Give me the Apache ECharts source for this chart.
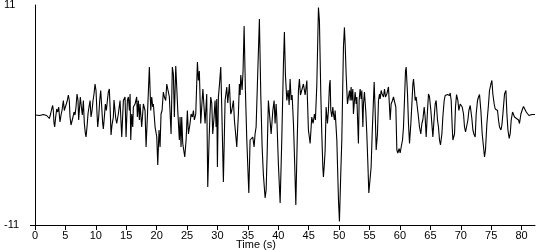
<!DOCTYPE html>
<html>
<head>
<meta charset="utf-8">
<script src="https://cdn.jsdelivr.net/npm/echarts@6/dist/echarts.min.js"></script>
<style>
html,body{margin:0;padding:0;background:#fff;}
#chart{width:550px;height:250px;}
</style>
</head>
<body>
<div id="chart"></div>
<script>
var times = [0,0.8,1.37,1.92,2.19,2.36,2.58,2.75,2.91,3.01,3.13,3.24,3.4,3.57,3.73,3.9,4.0,4.11,4.28,4.44,4.66,4.82,4.98,5.15,5.31,5.48,5.64,5.76,5.92,6.09,6.25,6.41,6.58,6.74,6.91,7.07,7.18,7.29,7.45,7.62,7.78,7.95,8.11,8.28,8.39,8.55,8.72,8.88,9.05,9.21,9.38,9.54,9.7,9.87,10.03,10.2,10.31,10.47,10.64,10.8,10.97,11.13,11.24,11.4,11.57,11.73,11.9,12.06,12.22,12.39,12.5,12.66,12.88,12.99,13.27,13.43,13.7,13.98,14.26,14.53,14.8,14.97,15.19,15.35,15.52,15.63,15.74,15.9,16.07,16.17,16.45,16.72,16.83,16.99,17.16,17.27,17.54,17.82,18.09,18.26,18.48,18.8,19.03,19.19,19.36,19.46,19.74,20.02,20.18,20.39,20.56,20.72,20.89,21.1,21.27,21.49,21.66,21.92,22.09,22.37,22.58,22.75,22.91,23.14,23.3,23.47,23.73,23.85,24.01,24.12,24.29,24.62,24.84,25.05,25.22,25.49,25.66,25.87,26.04,26.2,26.43,26.7,26.86,27.02,27.25,27.41,27.6,27.96,28.23,28.4,28.62,28.75,28.89,29.06,29.22,29.44,29.6,29.77,29.88,29.99,30.15,30.32,30.54,30.7,30.97,31.25,31.52,31.69,31.96,32.18,32.35,32.62,32.78,33.0,33.17,33.44,33.6,33.72,33.83,34.05,34.21,34.38,34.59,34.82,35.15,35.36,35.63,35.8,36.02,36.18,36.35,36.56,36.89,37.12,37.34,37.55,37.83,38.0,38.16,38.37,38.82,39.1,39.31,39.47,39.64,39.75,40.02,40.3,40.57,40.84,41.0,41.17,41.4,41.61,41.78,41.94,42.11,42.27,42.49,42.65,42.88,43.09,43.31,43.47,43.64,43.86,44.13,44.41,44.69,44.95,45.23,45.5,45.72,45.94,46.1,46.33,46.6,46.76,46.99,47.15,47.32,47.42,47.58,47.7,47.86,47.97,48.08,48.24,48.41,48.52,48.63,48.8,48.96,49.07,49.23,49.34,49.62,49.89,50.05,50.27,50.44,50.6,50.71,50.87,50.99,51.15,51.37,51.53,51.7,51.81,51.97,52.08,52.25,52.35,52.63,52.8,52.91,53.17,53.29,53.45,53.62,53.73,53.9,54.0,54.16,54.39,54.55,54.72,54.88,55.1,55.26,55.43,55.64,55.76,55.92,56.09,56.3,56.47,56.63,56.74,56.91,57.07,57.29,57.46,57.62,57.84,58.11,58.22,58.39,58.55,58.77,58.93,59.1,59.32,59.49,59.65,59.87,60.03,60.2,60.42,60.58,60.74,60.91,61.02,61.24,61.4,61.57,61.79,61.96,62.12,62.23,62.39,62.5,62.66,62.88,63.04,63.21,63.43,63.6,63.76,63.98,64.14,64.31,64.53,64.69,64.86,65.08,65.24,65.41,65.63,65.79,65.95,66.17,66.33,66.5,66.66,66.89,67.05,67.27,67.43,67.6,67.81,67.98,68.14,68.26,68.42,68.59,68.7,68.8,68.97,69.13,69.3,69.52,69.68,69.9,70.07,70.23,70.45,70.61,70.78,71.0,71.17,71.33,71.55,71.66,71.82,71.99,72.15,72.37,72.53,72.75,72.91,73.08,73.3,73.52,73.74,73.9,74.06,74.29,74.56,74.72,74.95,75.11,75.27,75.49,75.66,75.82,76.04,76.2,76.37,76.6,76.76,76.92,77.19,77.42,77.58,77.75,77.96,78.13,78.29,78.51,78.67,78.83,79.0,79.16,79.33,79.49,79.65,79.88,80.15,80.31,80.54,80.76,80.97,81.2,81.41,81.69,81.96,82.2];
var accel = [0,-0.05,0.05,-0.05,-0.2,-0.35,0.15,0.6,0.95,0.45,-0.85,-1.2,-0.2,0.6,0.3,0.8,0,-0.7,0,0.45,1.45,0.45,0.8,1.1,1.45,2.0,1.45,-0.2,-1.0,-0.85,-0.2,0.3,0,0.8,2.1,1.45,-0.5,0.45,1.8,0.8,0,1.45,-0.85,-1.85,-2.2,-1.2,0.15,0.8,1.45,-0.2,0.45,1.45,2.1,3.1,2.45,0.1,-1.2,-0.2,1.45,2.45,0.8,-0.85,-1.4,-0.2,1.1,0.45,1.45,2.3,2.6,0.1,-2.0,-1.0,-0.2,1.5,-0.3,-0.85,0.1,1.45,-2.2,1.45,1.8,-2.2,1.45,1.8,0.45,2.1,-2.5,0.1,-1.2,0.8,1.1,1.8,-0.2,1.45,-0.5,1.1,-1.2,1.1,0.45,-3.2,-0.1,4.8,0.45,1.8,0.8,1.1,-1.2,-2.2,-5.0,-1.5,-3.2,0.1,0.45,2.3,1.8,1.45,3.1,3.0,1.8,-1.9,4.8,4.1,-0.2,4.9,2.8,0.45,-2.5,-0.2,-3.2,-0.2,-2.85,-4.2,-2.5,0.45,-1.9,-0.85,0.1,-0.2,0.45,-0.5,0.1,5.3,3.45,4.4,-0.85,0.8,2.6,-0.85,2.1,-7.2,-2.5,-0.2,1.8,1.2,-1.9,-0.2,1.45,-1.2,1.6,-5.2,1.8,3.0,4.8,0.8,-6.7,1.45,2.8,1.2,3.1,0.1,0.45,1.45,-0.5,-2.0,-3.2,0.1,3.1,2.0,4.0,2.5,4.5,8.9,2.5,-2.5,-7.8,-2.5,-2.5,-2.2,-3.2,-1.9,-1.2,3.0,9.6,2.0,-3.2,-6.0,-8.3,-7.5,-4,1.45,-1.9,0.45,1.45,-0.85,1.1,-0.2,-5.0,-8.8,-2.5,5.0,8.3,4.0,1.45,2.5,1.0,3.6,1.5,2.0,-0.85,-4.0,-9.0,-3.0,2.45,3.6,2.0,1.8,3.1,2.0,3.45,-1.5,-2.85,-0.2,-0.85,0.1,-0.5,3.0,10.75,9.4,2.0,-1.9,-5.2,-6.2,-4.8,-3.5,0.8,0.8,-0.85,0.45,3.0,3.5,0.45,-0.2,0.8,0.1,-0.5,0.45,-2.5,-8.5,-10.65,-5.8,-2.5,3.1,6.8,8.76,7.1,4.1,1.1,1.8,2.45,1.45,2.8,1.45,2.6,0.1,2.3,1.1,1.8,-2.85,1.45,2.6,1.6,2.45,-1.2,1.1,2.3,0.3,-1.9,-4.8,-7.8,-8.0,-5.2,-1.9,1.45,3.3,0.45,-3.5,-1.9,1.45,2.1,1.6,2.45,2.1,1.8,2.6,1.8,2.1,2.8,2.8,-0.5,1.1,1.45,1.8,1.6,0.8,-3.5,-3.8,-3.35,-3.8,-3.2,-2.5,-1.2,1.45,4.4,4.8,2.1,-0.85,-2.85,-0.85,1.1,3.1,3.6,2.45,1.45,1.8,1.8,-0.2,-1.2,-1.9,-0.85,-0.5,0.8,-0.2,-2.2,0.45,2.1,1.8,0.45,-0.85,-2.2,-0.2,1.1,1.45,-0.5,-1.2,-2.5,-3.0,-1.9,-0.2,1.45,1.95,2.05,2.05,2.2,1.95,2.2,1.45,-1.2,-2.5,-2.7,-1.9,0.8,2.05,1.45,0.45,1.1,0.95,0.8,0.1,-1.2,-1.7,-1.7,-0.5,0.45,0.95,0.8,-0.35,-1.5,-1.9,-2.2,0.1,1.45,1.8,2.05,0.45,-1.9,-3.2,-4.2,-3.5,-0.85,1.1,2.45,3.1,3.45,2.1,1.1,0.6,0.8,0.45,-0.5,-1.2,-1.5,-1.0,0.1,2.1,2.45,0.1,-1.5,-2.35,-1.85,-0.5,0.3,0.45,-0.2,-0.35,-0.35,-0.35,-0.5,-0.85,0.1,0.6,0.85,0.7,0.3,0.1,-0.05,-0.05,0.05,0.05,0.05];
var xTickValues = [0,5,10,15,20,25,30,35,40,45,50,55,60,65,70,75,80];
var yLabelValues = [-11, 11];
var xAxisTitle = 'Time (s)';
var yAxisTitle = 'cm/s/s';

var seriesData = times.map(function (t, i) { return [t, accel[i]]; });
var font = 'Liberation Sans, Arial, sans-serif';
var chart = echarts.init(document.getElementById('chart'), null, {renderer: 'canvas'});
chart.setOption({
  animation: false,
  backgroundColor: '#fff',
  grid: {left: 35, right: 15, top: 5, bottom: 25, containLabel: false, outerBoundsMode: 'none'},
  xAxis: {
    type: 'value', min: 0, max: 82.2,
    axisLine: {show: true, onZero: false, lineStyle: {color: '#000', width: 1}},
    axisTick: {show: true, length: 5, customValues: xTickValues, lineStyle: {color: '#000'}},
    axisLabel: {customValues: xTickValues, color: '#000', fontSize: 11, fontFamily: font, margin: 5},
    splitLine: {show: false}
  },
  yAxis: {
    type: 'value', min: -11, max: 11,
    name: yAxisTitle, nameLocation: 'middle', nameGap: 22, nameRotate: 90,
    nameTextStyle: {color: '#000', fontSize: 10, fontFamily: font},
    axisLine: {show: true, onZero: false, lineStyle: {color: '#000', width: 1}},
    axisTick: {show: true, length: 5, customValues: [-11], lineStyle: {color: '#000'}},
    axisLabel: {customValues: yLabelValues, color: '#000', fontSize: 11, fontFamily: font, align: 'left', margin: 31},
    splitLine: {show: false}
  },
  graphic: [{
    type: 'text', left: 236, top: 239,
    style: {text: xAxisTitle, fill: '#000', font: '11px ' + font}
  }],
  series: [{
    type: 'line', data: seriesData, showSymbol: false, symbol: 'none',
    lineStyle: {color: '#000', width: 1.1}, silent: true
  }]
});
</script>
</body>
</html>
